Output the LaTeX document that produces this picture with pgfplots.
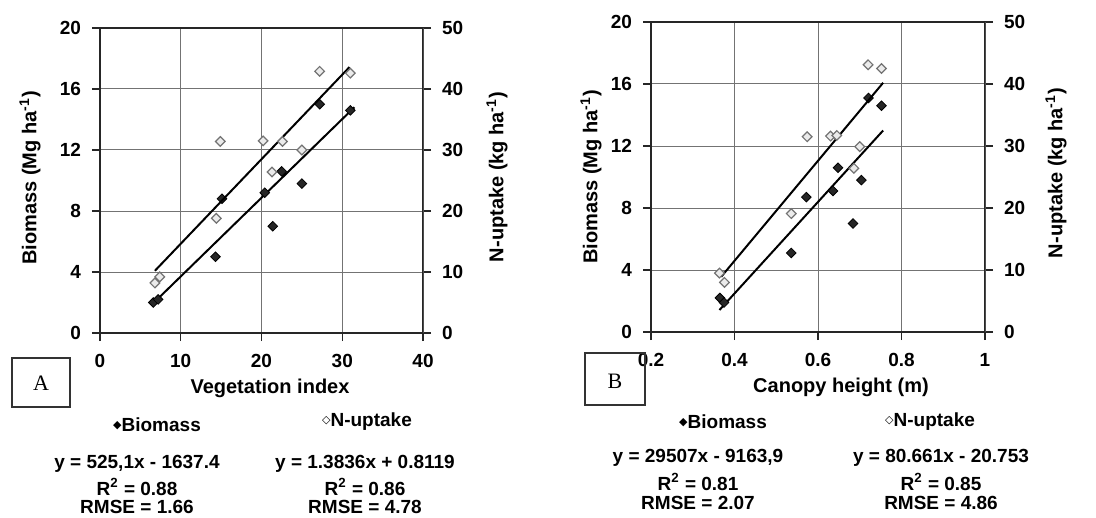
\documentclass[border=0pt]{standalone}
\usepackage{pgfplots}
\pgfplotsset{compat=1.18}
\usepackage{pgfplotstable}
\usepackage{fontspec}
\setmainfont{Liberation Sans}
\newfontfamily\serifbox{Liberation Serif}
\newfontfamily\symfont{DejaVu Sans}

% Panel A: vegetation index
\pgfplotstableread{
x y
6.6 2.0
7.2 2.2
14.3 5.0
15.1 8.8
20.4 9.2
21.4 7.0
22.5 10.6
25.0 9.8
27.2 15.0
31.0 14.6
}\bioA
\pgfplotstableread{
x y
6.8 8.2
7.4 9.2
14.4 18.8
14.9 31.4
20.2 31.5
21.3 26.4
22.6 31.4
25.0 30.0
27.2 42.9
31.0 42.6
}\nupA
% Panel B: canopy height
\pgfplotstableread{
x y
0.365 2.2
0.375 1.9
0.536 5.1
0.572 8.7
0.636 9.1
0.648 10.6
0.684 7.0
0.704 9.8
0.721 15.1
0.752 14.6
}\bioB
\pgfplotstableread{
x y
0.364 9.5
0.376 8.0
0.536 19.1
0.574 31.5
0.630 31.6
0.645 31.7
0.686 26.4
0.700 29.9
0.720 43.1
0.752 42.5
}\nupB

\pgfplotsset{
  base/.style={
    scale only axis, anchor=south west,
    ymin=0, clip=false,
    tick align=outside, major tick length=4pt,
    tick style={black!85, line width=0.6pt},
    ticklabel style={font=\bfseries\fontsize{9.5}{10}\selectfont},
    /pgf/number format/assume math mode=true,
  },
  left panel/.style={
    base, ymax=20, ytick={0,4,...,20},
    xtick pos=left, ytick pos=left,
    grid=major, major grid style={black!55, line width=0.5pt},
    axis line style={black!85, line width=0.6pt},
    yticklabel style={xshift=-2pt},
    xticklabel style={yshift=-3pt},
  },
  right panel/.style={
    base, ymax=50, ytick={0,10,...,50},
    axis x line=none, axis y line*=right,
    axis line style={black!70, line width=0.5pt},
    yticklabel style={xshift=2pt},
  },
  bio/.style={only marks, mark=square*, mark size=1.7pt,
    mark options={rotate=45, fill=black!85, draw=black}},
  nup/.style={only marks, mark=square*, mark size=1.7pt,
    mark options={rotate=45, fill=black!8, draw=black!55, line width=0.6pt}},
  fit/.style={no marks, black, line width=1pt},
}

\newcommand{\lbl}{\bfseries\fontsize{10}{12}\selectfont}
\newcommand{\eqf}{\bfseries\fontsize{9.5}{11}\selectfont}
% small legend glyphs, raised to the middle of the text
\newcommand{\fullmark}{\raisebox{1.6pt}{\symfont\fontsize{5.5}{6}\selectfont ◆}}
\newcommand{\openmark}{\raisebox{1.6pt}{\symfont\fontsize{5.5}{6}\selectfont ◇}}

\begin{document}
\begin{tikzpicture}
\useasboundingbox (0,0) rectangle (548pt,-259pt);

% ---------------- Panel A ----------------
\begin{axis}[left panel, at={(50pt,-166.5pt)}, width=161.5pt, height=152.5pt,
  xmin=0, xmax=40, xtick={0,10,...,40}]
  \addplot[bio] table {\bioA};
  \addplot[fit] coordinates {(6.4,1.85) (31.5,14.8)};
\end{axis}
\begin{axis}[right panel, at={(50pt,-166.5pt)}, width=161.5pt, height=152.5pt,
  xmin=0, xmax=40]
  \addplot[nup] table {\nupA};
  \addplot[fit] coordinates {(6.8,10.2) (30.9,43.6)};
\end{axis}

\node[rotate=90, font=\lbl] at (15pt,-89pt) {Biomass (Mg ha\textsuperscript{-1})};
\node[rotate=90, font=\lbl] at (248.5pt,-88.5pt) {N-uptake (kg ha\textsuperscript{-1})};
\node[font=\lbl] at (135pt,-194pt) {Vegetation index};
\draw[black!80, line width=0.7pt] (6pt,-179pt) rectangle (35pt,-203.5pt);
\node[font=\serifbox\fontsize{11}{12}\selectfont] at (20.5pt,-191.5pt) {A};
\node[font=\eqf] at (78.5pt,-212.5pt) {\fullmark Biomass};
\node[font=\eqf] at (183.5pt,-211pt) {\openmark N-uptake};
\node[font=\eqf] at (68.5pt,-232pt) {y = 525,1x - 1637.4};
\node[font=\eqf] at (68.5pt,-243.5pt) {R\textsuperscript{2} = 0.88};
\node[font=\eqf] at (68.5pt,-253.5pt) {RMSE = 1.66};
\node[font=\eqf] at (182.5pt,-232pt) {y = 1.3836x + 0.8119};
\node[font=\eqf] at (182.5pt,-243.5pt) {R\textsuperscript{2} = 0.86};
\node[font=\eqf] at (182.5pt,-253.5pt) {RMSE = 4.78};

% ---------------- Panel B ----------------
\begin{axis}[left panel, at={(325.5pt,-166pt)}, width=167pt, height=155pt,
  xmin=0.2, xmax=1, xtick={0.2,0.4,...,1.01},
  xticklabel style={/pgf/number format/fixed}]
  \addplot[bio] table {\bioB};
  \addplot[fit] coordinates {(0.364,1.42) (0.756,13.0)};
\end{axis}
\begin{axis}[right panel, at={(325.5pt,-166pt)}, width=167pt, height=155pt,
  xmin=0.2, xmax=1]
  \addplot[nup] table {\nupB};
  \addplot[fit] coordinates {(0.368,8.9) (0.756,40.2)};
\end{axis}

\node[rotate=90, font=\lbl] at (295.5pt,-88.5pt) {Biomass (Mg ha\textsuperscript{-1})};
\node[rotate=90, font=\lbl] at (528pt,-86.5pt) {N-uptake (kg ha\textsuperscript{-1})};
\node[font=\lbl] at (420.5pt,-193.5pt) {Canopy height (m)};
\draw[black!80, line width=0.7pt] (292.5pt,-176.5pt) rectangle (322.5pt,-202.5pt);
\node[font=\serifbox\fontsize{11}{12}\selectfont] at (307.5pt,-190.5pt) {B};
\node[font=\eqf] at (361.5pt,-211pt) {\fullmark Biomass};
\node[font=\eqf] at (465pt,-211pt) {\openmark N-uptake};
\node[font=\eqf] at (349pt,-229pt) {y = 29507x - 9163,9};
\node[font=\eqf] at (349pt,-241pt) {R\textsuperscript{2} = 0.81};
\node[font=\eqf] at (349pt,-251.5pt) {RMSE = 2.07};
\node[font=\eqf] at (470.5pt,-229pt) {y = 80.661x - 20.753};
\node[font=\eqf] at (470.5pt,-241pt) {R\textsuperscript{2} = 0.85};
\node[font=\eqf] at (470.5pt,-251.5pt) {RMSE = 4.86};
\end{tikzpicture}
\end{document}
